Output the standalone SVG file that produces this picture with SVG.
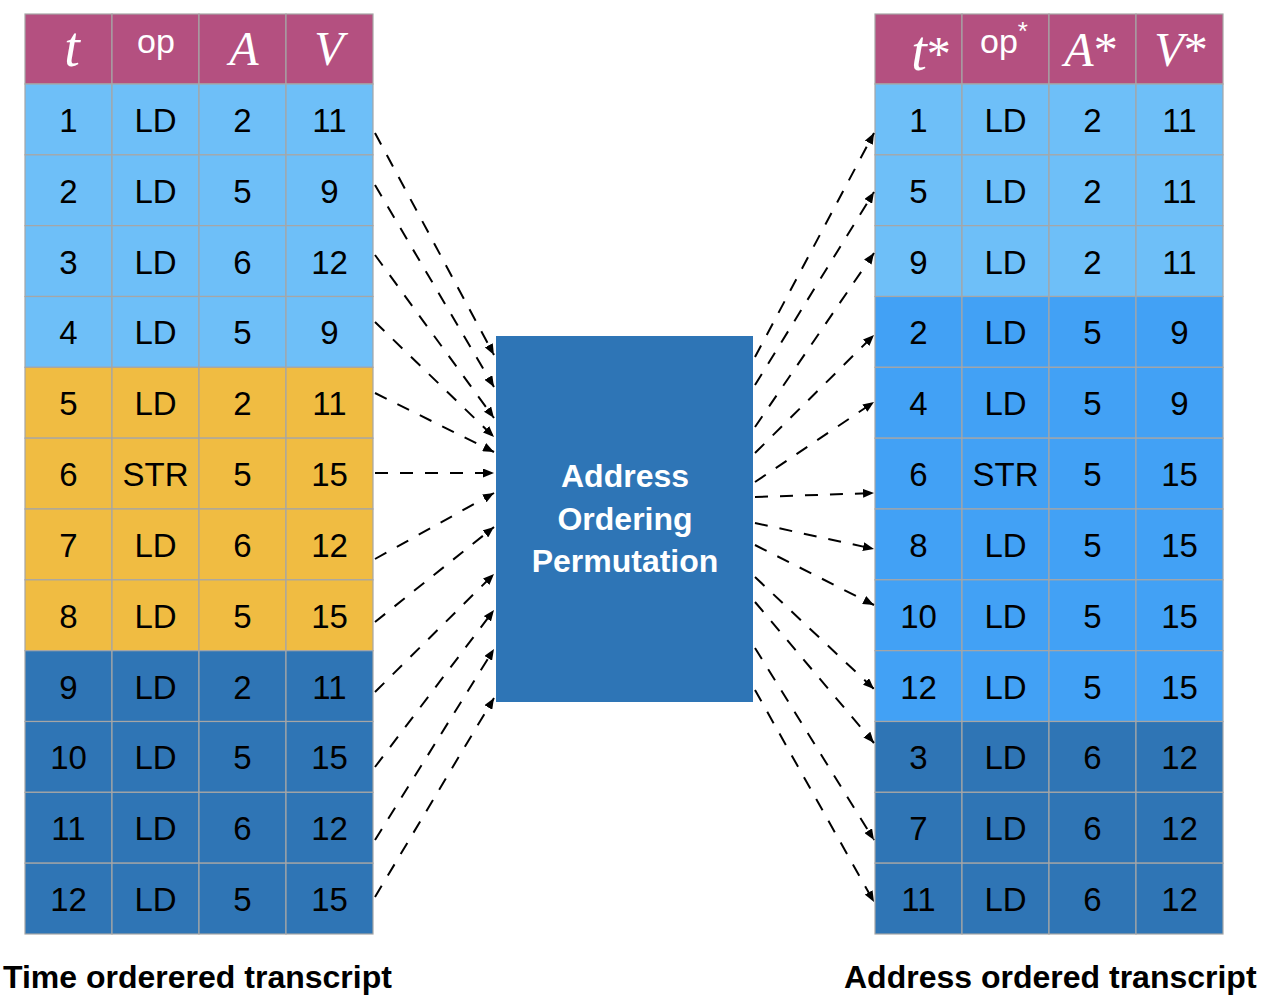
<svg xmlns="http://www.w3.org/2000/svg" width="1264" height="1002" viewBox="0 0 1264 1002">
<style>
.hd{fill:#B45080}
.lb{fill:#6EBFF8}
.mb{fill:#42A1F5}
.db{fill:#2F75B5}
.or{fill:#F0BC42}
.cell rect{stroke:#A6A6A6;stroke-width:1.2}
.v{font-family:"Liberation Sans",Arial,sans-serif;font-size:33px;fill:#000;text-anchor:middle}
.hs{font-family:"Liberation Serif","Times New Roman",serif;font-style:italic;font-size:48px;fill:#fff;text-anchor:middle}
.ht{font-size:56px}
.hn{font-family:"Liberation Sans",Arial,sans-serif;font-size:34px;fill:#fff;text-anchor:middle}
.lbl{font-family:"Liberation Sans",Arial,sans-serif;font-weight:bold;font-size:32px;fill:#000}
.bx{font-family:"Liberation Sans",Arial,sans-serif;font-weight:bold;font-size:32px;fill:#fff;text-anchor:middle}
.c{fill:none;stroke:#000;stroke-width:2;stroke-dasharray:13 12;marker-end:url(#ah)}
</style>
<defs>
<marker id="ah" markerUnits="userSpaceOnUse" markerWidth="11" markerHeight="9" refX="11" refY="4.5" orient="auto">
<path d="M0,0 L11,4.5 L0,9 z" fill="#000"/>
</marker>
</defs>
<rect width="1264" height="1002" fill="#fff"/>

<g id="left-table" class="cell">
<rect class="hd" x="25" y="14" width="87" height="70"/><rect class="hd" x="112" y="14" width="87" height="70"/><rect class="hd" x="199" y="14" width="87" height="70"/><rect class="hd" x="286" y="14" width="87" height="70"/>
<text class="hs ht" x="72" y="66">t</text>
<text class="hn" x="156" y="53">op</text>
<text class="hs" x="244" y="65">A</text>
<text class="hs" x="329" y="65">V</text>
<g id="L1"><rect class="lb" x="25" y="84" width="87" height="70.83"/><rect class="lb" x="112" y="84" width="87" height="70.83"/><rect class="lb" x="199" y="84" width="87" height="70.83"/><rect class="lb" x="286" y="84" width="87" height="70.83"/>
<text class="v" x="68.5" y="131.8">1</text><text class="v" x="155.5" y="131.8">LD</text><text class="v" x="242.5" y="131.8">2</text><text class="v" x="329.5" y="131.8">11</text></g>
<g id="L2"><rect class="lb" x="25" y="154.83" width="87" height="70.83"/><rect class="lb" x="112" y="154.83" width="87" height="70.83"/><rect class="lb" x="199" y="154.83" width="87" height="70.83"/><rect class="lb" x="286" y="154.83" width="87" height="70.83"/>
<text class="v" x="68.5" y="202.6">2</text><text class="v" x="155.5" y="202.6">LD</text><text class="v" x="242.5" y="202.6">5</text><text class="v" x="329.5" y="202.6">9</text></g>
<g id="L3"><rect class="lb" x="25" y="225.67" width="87" height="70.83"/><rect class="lb" x="112" y="225.67" width="87" height="70.83"/><rect class="lb" x="199" y="225.67" width="87" height="70.83"/><rect class="lb" x="286" y="225.67" width="87" height="70.83"/>
<text class="v" x="68.5" y="273.5">3</text><text class="v" x="155.5" y="273.5">LD</text><text class="v" x="242.5" y="273.5">6</text><text class="v" x="329.5" y="273.5">12</text></g>
<g id="L4"><rect class="lb" x="25" y="296.5" width="87" height="70.83"/><rect class="lb" x="112" y="296.5" width="87" height="70.83"/><rect class="lb" x="199" y="296.5" width="87" height="70.83"/><rect class="lb" x="286" y="296.5" width="87" height="70.83"/>
<text class="v" x="68.5" y="344.3">4</text><text class="v" x="155.5" y="344.3">LD</text><text class="v" x="242.5" y="344.3">5</text><text class="v" x="329.5" y="344.3">9</text></g>
<g id="L5"><rect class="or" x="25" y="367.33" width="87" height="70.83"/><rect class="or" x="112" y="367.33" width="87" height="70.83"/><rect class="or" x="199" y="367.33" width="87" height="70.83"/><rect class="or" x="286" y="367.33" width="87" height="70.83"/>
<text class="v" x="68.5" y="415.1">5</text><text class="v" x="155.5" y="415.1">LD</text><text class="v" x="242.5" y="415.1">2</text><text class="v" x="329.5" y="415.1">11</text></g>
<g id="L6"><rect class="or" x="25" y="438.17" width="87" height="70.83"/><rect class="or" x="112" y="438.17" width="87" height="70.83"/><rect class="or" x="199" y="438.17" width="87" height="70.83"/><rect class="or" x="286" y="438.17" width="87" height="70.83"/>
<text class="v" x="68.5" y="486">6</text><text class="v" x="155.5" y="486">STR</text><text class="v" x="242.5" y="486">5</text><text class="v" x="329.5" y="486">15</text></g>
<g id="L7"><rect class="or" x="25" y="509" width="87" height="70.83"/><rect class="or" x="112" y="509" width="87" height="70.83"/><rect class="or" x="199" y="509" width="87" height="70.83"/><rect class="or" x="286" y="509" width="87" height="70.83"/>
<text class="v" x="68.5" y="556.8">7</text><text class="v" x="155.5" y="556.8">LD</text><text class="v" x="242.5" y="556.8">6</text><text class="v" x="329.5" y="556.8">12</text></g>
<g id="L8"><rect class="or" x="25" y="579.83" width="87" height="70.83"/><rect class="or" x="112" y="579.83" width="87" height="70.83"/><rect class="or" x="199" y="579.83" width="87" height="70.83"/><rect class="or" x="286" y="579.83" width="87" height="70.83"/>
<text class="v" x="68.5" y="627.6">8</text><text class="v" x="155.5" y="627.6">LD</text><text class="v" x="242.5" y="627.6">5</text><text class="v" x="329.5" y="627.6">15</text></g>
<g id="L9"><rect class="db" x="25" y="650.67" width="87" height="70.83"/><rect class="db" x="112" y="650.67" width="87" height="70.83"/><rect class="db" x="199" y="650.67" width="87" height="70.83"/><rect class="db" x="286" y="650.67" width="87" height="70.83"/>
<text class="v" x="68.5" y="698.5">9</text><text class="v" x="155.5" y="698.5">LD</text><text class="v" x="242.5" y="698.5">2</text><text class="v" x="329.5" y="698.5">11</text></g>
<g id="L10"><rect class="db" x="25" y="721.5" width="87" height="70.83"/><rect class="db" x="112" y="721.5" width="87" height="70.83"/><rect class="db" x="199" y="721.5" width="87" height="70.83"/><rect class="db" x="286" y="721.5" width="87" height="70.83"/>
<text class="v" x="68.5" y="769.3">10</text><text class="v" x="155.5" y="769.3">LD</text><text class="v" x="242.5" y="769.3">5</text><text class="v" x="329.5" y="769.3">15</text></g>
<g id="L11"><rect class="db" x="25" y="792.33" width="87" height="70.83"/><rect class="db" x="112" y="792.33" width="87" height="70.83"/><rect class="db" x="199" y="792.33" width="87" height="70.83"/><rect class="db" x="286" y="792.33" width="87" height="70.83"/>
<text class="v" x="68.5" y="840.1">11</text><text class="v" x="155.5" y="840.1">LD</text><text class="v" x="242.5" y="840.1">6</text><text class="v" x="329.5" y="840.1">12</text></g>
<g id="L12"><rect class="db" x="25" y="863.17" width="87" height="70.83"/><rect class="db" x="112" y="863.17" width="87" height="70.83"/><rect class="db" x="199" y="863.17" width="87" height="70.83"/><rect class="db" x="286" y="863.17" width="87" height="70.83"/>
<text class="v" x="68.5" y="911">12</text><text class="v" x="155.5" y="911">LD</text><text class="v" x="242.5" y="911">5</text><text class="v" x="329.5" y="911">15</text></g>
</g>

<g id="right-table" class="cell">
<rect class="hd" x="875" y="14" width="87" height="70"/><rect class="hd" x="962" y="14" width="87" height="70"/><rect class="hd" x="1049" y="14" width="87" height="70"/><rect class="hd" x="1136" y="14" width="87" height="70"/>
<text class="hs" x="931" y="70"><tspan font-size="56">t</tspan><tspan font-style="normal">*</tspan></text>
<text class="hn" x="1004" y="53">op<tspan font-size="26" dy="-13">*</tspan></text>
<text class="hs" x="1091" y="66">A<tspan font-style="normal">*</tspan></text>
<text class="hs" x="1181" y="66">V<tspan font-style="normal">*</tspan></text>
<g id="R1"><rect class="lb" x="875" y="84" width="87" height="70.83"/><rect class="lb" x="962" y="84" width="87" height="70.83"/><rect class="lb" x="1049" y="84" width="87" height="70.83"/><rect class="lb" x="1136" y="84" width="87" height="70.83"/>
<text class="v" x="918.5" y="131.8">1</text><text class="v" x="1005.5" y="131.8">LD</text><text class="v" x="1092.5" y="131.8">2</text><text class="v" x="1179.5" y="131.8">11</text></g>
<g id="R2"><rect class="lb" x="875" y="154.83" width="87" height="70.83"/><rect class="lb" x="962" y="154.83" width="87" height="70.83"/><rect class="lb" x="1049" y="154.83" width="87" height="70.83"/><rect class="lb" x="1136" y="154.83" width="87" height="70.83"/>
<text class="v" x="918.5" y="202.6">5</text><text class="v" x="1005.5" y="202.6">LD</text><text class="v" x="1092.5" y="202.6">2</text><text class="v" x="1179.5" y="202.6">11</text></g>
<g id="R3"><rect class="lb" x="875" y="225.67" width="87" height="70.83"/><rect class="lb" x="962" y="225.67" width="87" height="70.83"/><rect class="lb" x="1049" y="225.67" width="87" height="70.83"/><rect class="lb" x="1136" y="225.67" width="87" height="70.83"/>
<text class="v" x="918.5" y="273.5">9</text><text class="v" x="1005.5" y="273.5">LD</text><text class="v" x="1092.5" y="273.5">2</text><text class="v" x="1179.5" y="273.5">11</text></g>
<g id="R4"><rect class="mb" x="875" y="296.5" width="87" height="70.83"/><rect class="mb" x="962" y="296.5" width="87" height="70.83"/><rect class="mb" x="1049" y="296.5" width="87" height="70.83"/><rect class="mb" x="1136" y="296.5" width="87" height="70.83"/>
<text class="v" x="918.5" y="344.3">2</text><text class="v" x="1005.5" y="344.3">LD</text><text class="v" x="1092.5" y="344.3">5</text><text class="v" x="1179.5" y="344.3">9</text></g>
<g id="R5"><rect class="mb" x="875" y="367.33" width="87" height="70.83"/><rect class="mb" x="962" y="367.33" width="87" height="70.83"/><rect class="mb" x="1049" y="367.33" width="87" height="70.83"/><rect class="mb" x="1136" y="367.33" width="87" height="70.83"/>
<text class="v" x="918.5" y="415.1">4</text><text class="v" x="1005.5" y="415.1">LD</text><text class="v" x="1092.5" y="415.1">5</text><text class="v" x="1179.5" y="415.1">9</text></g>
<g id="R6"><rect class="mb" x="875" y="438.17" width="87" height="70.83"/><rect class="mb" x="962" y="438.17" width="87" height="70.83"/><rect class="mb" x="1049" y="438.17" width="87" height="70.83"/><rect class="mb" x="1136" y="438.17" width="87" height="70.83"/>
<text class="v" x="918.5" y="486">6</text><text class="v" x="1005.5" y="486">STR</text><text class="v" x="1092.5" y="486">5</text><text class="v" x="1179.5" y="486">15</text></g>
<g id="R7"><rect class="mb" x="875" y="509" width="87" height="70.83"/><rect class="mb" x="962" y="509" width="87" height="70.83"/><rect class="mb" x="1049" y="509" width="87" height="70.83"/><rect class="mb" x="1136" y="509" width="87" height="70.83"/>
<text class="v" x="918.5" y="556.8">8</text><text class="v" x="1005.5" y="556.8">LD</text><text class="v" x="1092.5" y="556.8">5</text><text class="v" x="1179.5" y="556.8">15</text></g>
<g id="R8"><rect class="mb" x="875" y="579.83" width="87" height="70.83"/><rect class="mb" x="962" y="579.83" width="87" height="70.83"/><rect class="mb" x="1049" y="579.83" width="87" height="70.83"/><rect class="mb" x="1136" y="579.83" width="87" height="70.83"/>
<text class="v" x="918.5" y="627.6">10</text><text class="v" x="1005.5" y="627.6">LD</text><text class="v" x="1092.5" y="627.6">5</text><text class="v" x="1179.5" y="627.6">15</text></g>
<g id="R9"><rect class="mb" x="875" y="650.67" width="87" height="70.83"/><rect class="mb" x="962" y="650.67" width="87" height="70.83"/><rect class="mb" x="1049" y="650.67" width="87" height="70.83"/><rect class="mb" x="1136" y="650.67" width="87" height="70.83"/>
<text class="v" x="918.5" y="698.5">12</text><text class="v" x="1005.5" y="698.5">LD</text><text class="v" x="1092.5" y="698.5">5</text><text class="v" x="1179.5" y="698.5">15</text></g>
<g id="R10"><rect class="db" x="875" y="721.5" width="87" height="70.83"/><rect class="db" x="962" y="721.5" width="87" height="70.83"/><rect class="db" x="1049" y="721.5" width="87" height="70.83"/><rect class="db" x="1136" y="721.5" width="87" height="70.83"/>
<text class="v" x="918.5" y="769.3">3</text><text class="v" x="1005.5" y="769.3">LD</text><text class="v" x="1092.5" y="769.3">6</text><text class="v" x="1179.5" y="769.3">12</text></g>
<g id="R11"><rect class="db" x="875" y="792.33" width="87" height="70.83"/><rect class="db" x="962" y="792.33" width="87" height="70.83"/><rect class="db" x="1049" y="792.33" width="87" height="70.83"/><rect class="db" x="1136" y="792.33" width="87" height="70.83"/>
<text class="v" x="918.5" y="840.1">7</text><text class="v" x="1005.5" y="840.1">LD</text><text class="v" x="1092.5" y="840.1">6</text><text class="v" x="1179.5" y="840.1">12</text></g>
<g id="R12"><rect class="db" x="875" y="863.17" width="87" height="70.83"/><rect class="db" x="962" y="863.17" width="87" height="70.83"/><rect class="db" x="1049" y="863.17" width="87" height="70.83"/><rect class="db" x="1136" y="863.17" width="87" height="70.83"/>
<text class="v" x="918.5" y="911">11</text><text class="v" x="1005.5" y="911">LD</text><text class="v" x="1092.5" y="911">6</text><text class="v" x="1179.5" y="911">12</text></g>
</g>

<g id="permutation-box">
<rect x="496" y="336" width="257" height="366" fill="#2E75B6"/>
<text class="bx" x="625" y="487">Address</text>
<text class="bx" x="625" y="530">Ordering</text>
<text class="bx" x="625" y="572">Permutation</text>
</g>

<g id="connectors">
<path class="c" d="M375,133 L494,355"/>
<path class="c" d="M375,185 L494,387"/>
<path class="c" d="M375,255 L494,418"/>
<path class="c" d="M375,322 L494,437"/>
<path class="c" d="M375,393 L494,452"/>
<path class="c" d="M375,473 L494,473"/>
<path class="c" d="M375,559 L494,493"/>
<path class="c" d="M375,622 L494,527"/>
<path class="c" d="M375,692 L494,574"/>
<path class="c" d="M375,767 L494,610"/>
<path class="c" d="M375,840 L494,649"/>
<path class="c" d="M375,897 L494,698"/>
<path class="c" d="M755,357 L874,133"/>
<path class="c" d="M755,385 L874,192"/>
<path class="c" d="M755,427 L874,253"/>
<path class="c" d="M755,453 L874,335"/>
<path class="c" d="M755,482 L874,402"/>
<path class="c" d="M755,497 L874,493"/>
<path class="c" d="M755,523 L874,549"/>
<path class="c" d="M755,545 L874,605"/>
<path class="c" d="M755,577 L874,689"/>
<path class="c" d="M755,602 L874,743"/>
<path class="c" d="M755,648 L874,840"/>
<path class="c" d="M755,690 L874,902"/>
</g>

<g id="labels">
<text class="lbl" x="3" y="988">Time orderered transcript</text>
<text class="lbl" x="844" y="988">Address ordered transcript</text>
</g>
</svg>
